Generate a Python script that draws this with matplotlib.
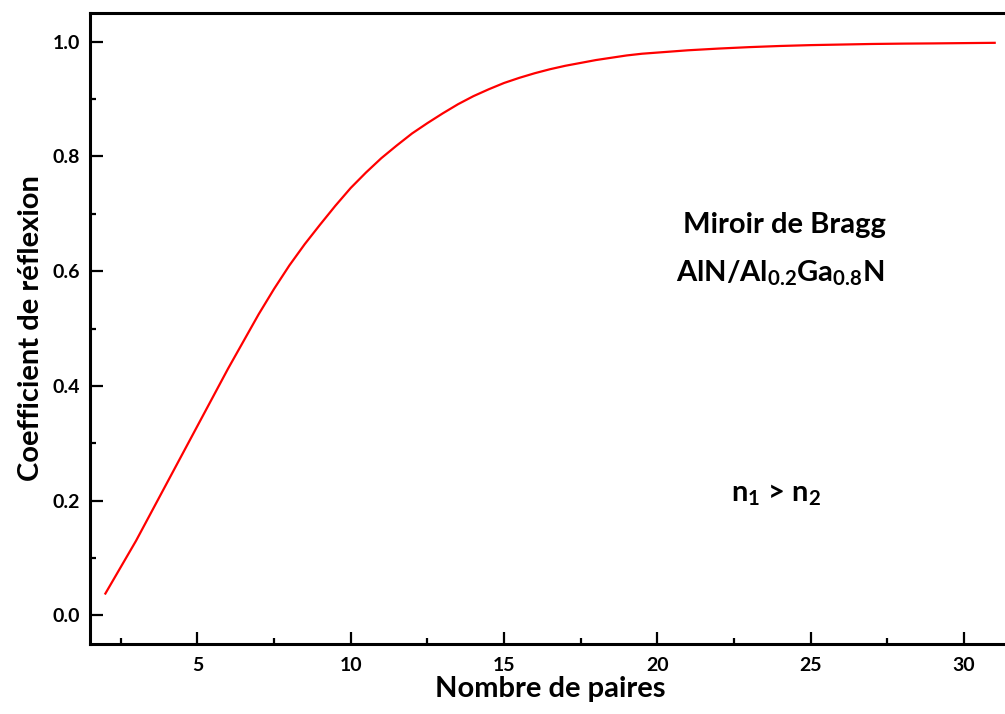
import matplotlib
matplotlib.use('Agg')
import matplotlib.pyplot as plt
from matplotlib.ticker import MultipleLocator

# reflectivity vs number of pairs
pairs = [2, 3, 4, 5, 6, 7, 7.5, 8, 8.5, 9, 9.5, 10, 10.5, 11, 11.5, 12,
         12.5, 13, 13.5, 14, 14.5, 15, 15.5, 16, 16.5, 17, 17.5, 18, 18.5,
         19, 19.5, 20, 21, 22, 23, 24, 25, 26, 27, 28, 29, 30, 31]
refl = [0.038, 0.13, 0.23, 0.33, 0.43, 0.525, 0.569, 0.61, 0.647, 0.681,
        0.714, 0.745, 0.772, 0.797, 0.819, 0.840, 0.858, 0.875, 0.891, 0.905,
        0.917, 0.928, 0.937, 0.945, 0.952, 0.958, 0.963, 0.968, 0.972,
        0.976, 0.979, 0.981, 0.985, 0.988, 0.9905, 0.9925, 0.994, 0.995,
        0.996, 0.9966, 0.997, 0.9975, 0.998]

xticks = [5, 10, 15, 20, 25, 30]
yticks = [0.0, 0.2, 0.4, 0.6, 0.8, 1.0]

plt.rcParams['font.family'] = ['Lato', 'DejaVu Sans']
plt.rcParams['font.weight'] = 'bold'
plt.rcParams['mathtext.fontset'] = 'custom'
plt.rcParams['mathtext.rm'] = 'Lato:bold'
plt.rcParams['mathtext.bf'] = 'Lato:bold'

fig = plt.figure(figsize=(10.05, 7.14), dpi=100)
ax = fig.add_axes([0.0896, 0.098, 0.9154, 0.8838])

ax.plot(pairs, refl, color='#ff0000', linewidth=1.6)

ax.set_xlim(1.5, 31.5)
ax.set_ylim(-0.05, 1.05)
ax.set_xticks(xticks)
ax.set_yticks(yticks)
ax.set_yticklabels([f'{v:.1f}' for v in yticks])
ax.xaxis.set_minor_locator(MultipleLocator(2.5))
ax.yaxis.set_minor_locator(MultipleLocator(0.1))

for s in ['top', 'left', 'bottom', 'right']:
    ax.spines[s].set_linewidth(2.2)
ax.tick_params(which='major', direction='in', length=9, width=1.6,
               labelsize=14, pad=9)
ax.tick_params(which='minor', direction='in', length=4.5, width=1.6)
ax.tick_params(axis='y', which='major', pad=7)
for lab in ax.get_xticklabels() + ax.get_yticklabels():
    lab.set_fontweight('bold')

ax.set_xlabel('Nombre de paires', fontsize=21, fontweight='bold', labelpad=2)
ax.set_ylabel('Coefficient de réflexion', fontsize=21, fontweight='bold', labelpad=6)

ax.text(0.755, 0.664, 'Miroir de Bragg', transform=ax.transAxes,
        fontsize=21, fontweight='bold', ha='center', va='center')
ax.text(0.75, 0.588, r'AlN/Al$_{\mathbf{0.2}}$Ga$_{\mathbf{0.8}}$N',
        transform=ax.transAxes, fontsize=21, fontweight='bold',
        ha='center', va='center')
ax.text(0.746, 0.236, r'n$_{\mathbf{1}}$ > n$_{\mathbf{2}}$',
        transform=ax.transAxes, fontsize=21, fontweight='bold',
        ha='center', va='center')

fig.savefig('out.png', dpi=100)
